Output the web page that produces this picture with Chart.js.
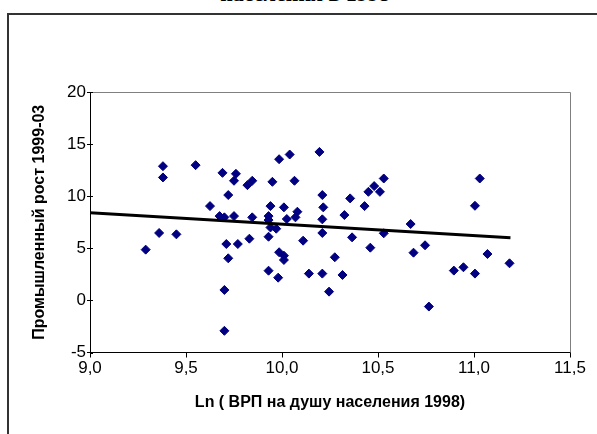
<!DOCTYPE html>
<html>
<head>
<meta charset="utf-8">
<script src="https://cdn.jsdelivr.net/npm/chart.js@4.4.1/dist/chart.umd.min.js"></script>
<style>
  html, body { margin: 0; padding: 0; background: #fff; overflow: hidden; }
  #wrap { position: relative; width: 597px; height: 434px; overflow: hidden; }
  #frame { position: absolute; left: 7px; top: 13px; width: 700px; height: 600px; border-left: 2px solid #333; border-top: 2px solid #333; }
  #title { position: absolute; left: 0; width: 610px; top: -14px; text-align: center; font: bold 22px "Liberation Serif", "Times New Roman", serif; line-height: 16px; color: #000; white-space: nowrap; }
  #chart { position: absolute; left: 0; top: 0; }
</style>
</head>
<body>
<div id="wrap">
  <div id="title">населения в 1998</div>
  <div id="frame"></div>
  <canvas id="chart" width="597" height="434"></canvas>
</div>
<script>
// Ln(ВРП на душу 1998) по регионам
const lnGrp = [
    9.29, 9.36, 9.38, 9.38, 9.45, 9.55, 9.625, 9.675, 9.69, 9.70,
    9.70, 9.70, 9.71, 9.72, 9.72, 9.75, 9.75, 9.76, 9.77, 9.82,
    9.83, 9.845, 9.845, 9.93, 9.93, 9.93, 9.93, 9.94, 9.94, 9.95,
    9.97, 9.98, 9.985, 9.985, 10.01, 10.01, 10.01, 10.025, 10.04, 10.065,
    10.07, 10.08, 10.11, 10.14, 10.195, 10.21, 10.215, 10.21, 10.21, 10.21,
    10.245, 10.275, 10.315, 10.325, 10.355, 10.365, 10.43, 10.45, 10.46, 10.48,
    10.51, 10.53, 10.53, 10.67, 10.685, 10.745, 10.765, 10.895, 10.945, 11.005,
    11.005, 11.03, 11.07, 11.185
];
// Промышленный рост 1999-03
const growth = [
    4.87, 6.47, 12.88, 11.80, 6.34, 12.98, 9.05, 8.09, 12.24, 7.97,
    1.0, -2.92, 5.41, 10.11, 4.04, 11.48, 8.09, 12.15, 5.41, 11.06,
    5.92, 11.48, 7.97, 8.09, 7.71, 6.11, 2.85, 9.05, 7.0, 11.38,
    6.88, 2.18, 13.55, 4.62, 8.93, 4.29, 3.88, 7.81, 14.0, 11.48,
    7.97, 8.51, 5.73, 2.57, 14.25, 10.11, 8.93, 7.78, 6.47, 2.57,
    0.84, 4.14, 2.44, 8.19, 9.79, 6.05, 9.05, 10.42, 5.06, 10.97,
    10.42, 11.70, 6.44, 7.33, 4.58, 5.29, -0.59, 2.86, 3.18, 9.08,
    2.57, 11.70, 4.45, 3.56
];
// линия тренда (концы)
const trendX = [9.0, 11.19];
const trendY = [8.41, 6.02];

const xTicks = [9.0, 9.5, 10.0, 10.5, 11.0, 11.5];
const yTicks = [-5, 0, 5, 10, 15, 20];

const FONT = 'Arial, "Liberation Sans", sans-serif';

// внутренние половинки засечек оси Y + рамка области построения
const plotFrame = {
    id: 'plotFrame',
    beforeDatasetsDraw(chart) {
        const { ctx, chartArea: a, scales } = chart;
        ctx.save();
        ctx.strokeStyle = '#808080';
        ctx.lineWidth = 1;
        ctx.beginPath();
        ctx.moveTo(a.left, a.top + 0.5);
        ctx.lineTo(a.right + 0.5, a.top + 0.5);
        ctx.lineTo(a.right + 0.5, a.bottom);
        ctx.stroke();
        ctx.strokeStyle = '#000';
        ctx.beginPath();
        yTicks.forEach(v => {
            const py = Math.round(scales.y.getPixelForValue(v)) + 0.5;
            ctx.moveTo(a.left, py);
            ctx.lineTo(a.left + 3, py);
        });
        ctx.stroke();
        ctx.restore();
    }
};

new Chart(document.getElementById('chart'), {
    type: 'scatter',
    data: {
        datasets: [
            {
                type: 'line',
                data: trendX.map((x, i) => ({ x, y: trendY[i] })),
                borderColor: '#000',
                borderWidth: 3,
                pointRadius: 0,
                order: 0
            },
            {
                data: lnGrp.map((x, i) => ({ x, y: growth[i] })),
                pointStyle: 'rectRot',
                pointRadius: 4.5,
                backgroundColor: '#000080',
                borderColor: '#000080',
                borderWidth: 1,
                order: 1
            }
        ]
    },
    options: {
        responsive: false,
        animation: false,
        events: [],
        layout: { padding: { left: 0, right: 27, top: 92, bottom: 0 } },
        plugins: { legend: { display: false }, tooltip: { enabled: false } },
        scales: {
            x: {
                type: 'linear',
                min: 9, max: 11.5,
                afterBuildTicks: s => { s.ticks = xTicks.map(v => ({ value: v })); },
                afterFit: s => { s.height = 81.5; },
                ticks: {
                    color: '#000',
                    font: { family: FONT, size: 17 },
                    padding: 1,
                    maxRotation: 0,
                    callback: v => v.toFixed(1).replace('.', ',')
                },
                grid: { drawOnChartArea: false, drawTicks: true, tickLength: 5, color: '#000' },
                border: { display: true, color: '#000', width: 1 },
                title: {
                    display: true,
                    text: 'Ln ( ВРП на душу населения 1998)',
                    color: '#000',
                    font: { family: FONT, size: 16, weight: 'bold' },
                    padding: { top: 0, bottom: 21.4 }
                }
            },
            y: {
                type: 'linear',
                min: -5, max: 20,
                afterBuildTicks: s => { s.ticks = yTicks.map(v => ({ value: v })); },
                afterFit: s => { s.width = 90; },
                ticks: {
                    color: '#000',
                    font: { family: FONT, size: 17 },
                    padding: 1
                },
                grid: { drawOnChartArea: false, drawTicks: true, tickLength: 3, color: '#000' },
                border: { display: true, color: '#000', width: 1 },
                title: {
                    display: true,
                    text: 'Промышленный рост 1999-03',
                    color: '#000',
                    font: { family: FONT, size: 16, weight: 'bold' },
                    padding: { top: 30.4, bottom: 0 }
                }
            }
        }
    },
    plugins: [plotFrame]
});
</script>
</body>
</html>
